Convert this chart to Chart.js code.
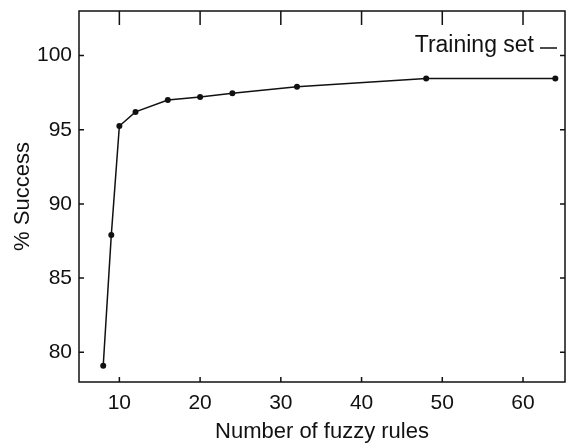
<!DOCTYPE html>
<html>
<head>
<meta charset="utf-8">
<script src="https://cdn.jsdelivr.net/npm/chart.js@4/dist/chart.umd.min.js"></script>
<style>
  html, body { margin: 0; padding: 0; background: #fff; }
  #wrap { width: 572px; height: 445px; }
</style>
</head>
<body>
<div id="wrap"><canvas id="chart" width="572" height="445"></canvas></div>
<script>
"use strict";

// data
const rules = [8, 9, 10, 12, 16, 20, 24, 32, 48, 64];
const success = [79.1, 87.9, 95.25, 96.2, 97.0, 97.2, 97.45, 97.9, 98.45, 98.45];
const xTicks = [10, 20, 30, 40, 50, 60];
const yTicks = [80, 85, 90, 95, 100];
const seriesLabel = 'Training set';

const FONT = '"Liberation Sans", Arial, Helvetica, sans-serif';

// frame round the plot + inward tick marks
const frame = {
    id: 'frame',
    afterDraw(chart) {
        const c = chart.ctx;
        const a = chart.chartArea;
        const xs = chart.scales.x;
        const ys = chart.scales.y;
        c.save();
        c.strokeStyle = '#111';
        c.lineWidth = 1.5;
        c.strokeRect(a.left, a.top, a.right - a.left, a.bottom - a.top);
        c.beginPath();
        xTicks.forEach(v => {
            const px = xs.getPixelForValue(v);
            c.moveTo(px, a.bottom); c.lineTo(px, a.bottom - 5);
            c.moveTo(px, a.top); c.lineTo(px, a.top + 14);
        });
        yTicks.forEach(v => {
            const py = ys.getPixelForValue(v);
            c.moveTo(a.left, py); c.lineTo(a.left + 5, py);
            c.moveTo(a.right, py); c.lineTo(a.right - 5, py);
        });
        c.stroke();

        // legend: text then a short line on its right
        c.fillStyle = '#111';
        c.font = '23px ' + FONT;
        c.textAlign = 'right';
        c.textBaseline = 'middle';
        c.fillText(seriesLabel, a.right - 31, a.top + 35);
        c.beginPath();
        c.moveTo(a.right - 25, a.top + 37);
        c.lineTo(a.right - 8, a.top + 37);
        c.stroke();
        c.restore();
    }
};

new Chart(document.querySelector('#chart'), {
    type: 'scatter',
    data: {
        datasets: [{
            label: seriesLabel,
            data: rules.map((r, i) => ({ x: r, y: success[i] })),
            showLine: true,
            borderColor: '#111',
            borderWidth: 1.5,
            backgroundColor: '#111',
            pointRadius: 3,
            pointBorderWidth: 0,
            tension: 0
        }]
    },
    options: {
        responsive: false,
        animation: false,
        layout: { padding: { top: 11, right: 7, left: 0, bottom: 0 } },
        plugins: {
            legend: { display: false },
            tooltip: { enabled: false }
        },
        scales: {
            x: {
                type: 'linear',
                min: 5,
                max: 65.2,
                afterBuildTicks: s => { s.ticks = xTicks.map(v => ({ value: v })); },
                afterFit: s => { s.height = 63; s.paddingLeft = 0; s.paddingRight = 0; },
                grid: { display: false, drawTicks: false },
                border: { display: false },
                ticks: { color: '#111', font: { family: FONT, size: 21 }, padding: 9, maxRotation: 0 },
                title: { display: true, text: 'Number of fuzzy rules', color: '#111',
                         font: { family: FONT, size: 22 }, padding: { top: 0, bottom: 0 } }
            },
            y: {
                min: 78,
                max: 103,
                afterBuildTicks: s => { s.ticks = yTicks.map(v => ({ value: v })); },
                afterFit: s => { s.width = 79; s.paddingTop = 0; s.paddingBottom = 0; },
                grid: { display: false, drawTicks: false },
                border: { display: false },
                ticks: { color: '#111', font: { family: FONT, size: 21 }, padding: 7 },
                title: { display: true, text: '% Success', color: '#111',
                         font: { family: FONT, size: 22 }, padding: { top: 10, bottom: 0 } }
            }
        }
    },
    plugins: [frame]
});
</script>
</body>
</html>
